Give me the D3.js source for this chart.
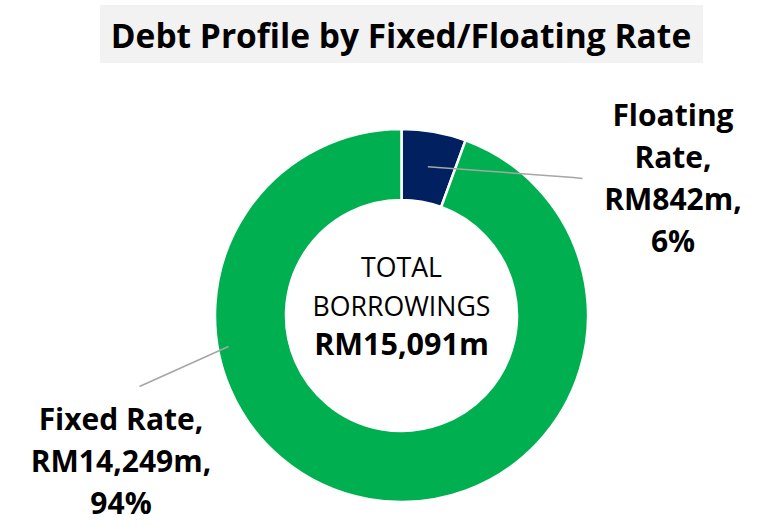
<!DOCTYPE html>
<html>
<head>
<meta charset="utf-8">
<script src="https://cdn.jsdelivr.net/npm/d3@7"></script>
<style>
  body { margin: 0; background: #fff; }
  svg { display: block; font-family: "Open Sans", sans-serif; }
</style>
</head>
<body>
<svg id="chart" width="765" height="526"></svg>
<script>
// data
var categories = ["Floating Rate", "Fixed Rate"];
var amounts = [842, 14249];          // RM million
var colours = ["#002060", "#00B050"];
var titleText = "Debt Profile by Fixed/Floating Rate";
var centreLines = ["TOTAL", "BORROWINGS"];

var total = d3.sum(amounts);
var fmtRM = function (v) { return "RM" + d3.format(",")(v) + "m"; };
var fmtPct = function (v) { return Math.round(v / total * 100) + "%"; };

var svg = d3.select("#chart");
var cx = 401.5, cy = 315.5, rOut = 186.5, rIn = 115.5;

// title on grey strip
svg.append("rect")
  .attr("x", 100).attr("y", 5).attr("width", 603).attr("height", 58)
  .style("fill", "#F2F2F2");
svg.append("text")
  .attr("x", 401).attr("y", 48)
  .attr("text-anchor", "middle")
  .style("font-weight", "bold").style("font-size", "33.5px")
  .text(titleText);

var pie = d3.pie().sort(null).startAngle(0).endAngle(2 * Math.PI);
var arcs = pie(amounts);
var arc = d3.arc().innerRadius(rIn).outerRadius(rOut);

var g = svg.append("g").attr("transform", "translate(" + cx + "," + cy + ")");
g.selectAll("path")
  .data(arcs)
  .enter()
  .append("path")
  .attr("d", arc)
  .style("fill", function (d, i) { return colours[i]; })
  .style("stroke", "#fff")
  .style("stroke-width", "2.5px");

// leader lines (excel placed them by hand)
var leaders = [
  [arc.centroid(arcs[0]), [172, -138], [181, -137]],
  [[-173, 31], [-262, 71]]
];
g.selectAll("polyline")
  .data(leaders)
  .enter()
  .append("polyline")
  .attr("points", function (d) { return d.map(function (p) { return p.join(","); }).join(" "); })
  .style("fill", "none")
  .style("stroke", "#A6A6A6")
  .style("stroke-width", "1.5px");

// slice labels
var labelPos = [[673, 126], [121, 430]];
var labelLines = [
  ["Floating", "Rate,", fmtRM(amounts[0]) + ",", fmtPct(amounts[0])],
  ["Fixed Rate,", fmtRM(amounts[1]) + ",", fmtPct(amounts[1])]
];
labelLines.forEach(function (lines, i) {
  svg.append("text")
    .attr("x", labelPos[i][0]).attr("y", labelPos[i][1])
    .attr("text-anchor", "middle")
    .style("font-weight", "bold").style("font-size", "30px")
    .selectAll("tspan")
    .data(lines)
    .enter()
    .append("tspan")
    .attr("x", labelPos[i][0])
    .attr("dy", function (d, j) { return j == 0 ? 0 : 42; })
    .text(function (d) { return d; });
});

// centre text
var centre = svg.append("text")
  .attr("x", cx).attr("y", 277)
  .attr("text-anchor", "middle")
  .style("font-size", "26.7px");
centre.selectAll("tspan")
  .data(centreLines)
  .enter()
  .append("tspan")
  .attr("x", cx)
  .attr("dy", function (d, j) { return j == 0 ? 0 : 39; })
  .text(function (d) { return d; });
centre.append("tspan")
  .attr("x", cx).attr("dy", 39)
  .style("font-weight", "bold").style("font-size", "30.5px")
  .text(fmtRM(total));
</script>
</body>
</html>
